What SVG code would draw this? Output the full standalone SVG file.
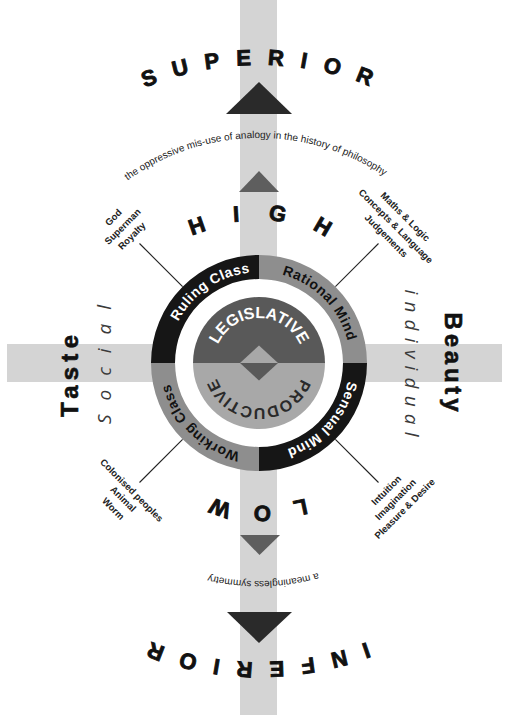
<svg xmlns="http://www.w3.org/2000/svg" width="509" height="715" viewBox="0 0 509 715">
<defs>
<style>
.band{fill:#d4d4d4}
.dark{fill:#2a2a2a}
.mid{fill:#5e5e5e}
.blk{fill:#161616}
.gry{fill:#8e8e8e}
.big{font-family:"Liberation Sans",Arial,sans-serif;font-weight:bold;font-size:22px;fill:#111;stroke:#111;stroke-width:0.9px}
.side{font-family:"Liberation Sans",Arial,sans-serif;font-weight:bold;font-size:24px;fill:#111;stroke:#111;stroke-width:0.6px;text-anchor:middle}
.arc{font-family:"Liberation Sans",Arial,sans-serif;font-size:10px;fill:#222}
.lab{font-family:"Liberation Sans",Arial,sans-serif;font-weight:bold;font-size:9.5px;fill:#222;text-anchor:middle}
.ring{font-family:"Liberation Sans",Arial,sans-serif;font-weight:bold;font-size:14px;letter-spacing:0.5px}
.core{font-family:"Liberation Sans",Arial,sans-serif;font-weight:bold;font-size:16px}
.soft{font-family:"Open Sans","Liberation Sans",sans-serif;font-style:italic;font-weight:normal;font-size:19px;fill:#3a3a3a;text-anchor:middle}
.conn{stroke:#222;stroke-width:1.1;fill:none}
</style>
<path id="pSup" d="M -39 363 A 298 298 0 0 1 557 363"/>
<path id="pInf" d="M 558 363 A 299 299 0 0 1 -40 363"/>
<path id="pHigh" d="M 116.5 363 A 142.5 142.5 0 0 1 401.5 363"/>
<path id="pLow" d="M 401.5 363 A 142.5 142.5 0 0 1 116.5 363"/>
<path id="pTop" d="M 34 363 A 225 225 0 0 1 484 363"/>
<path id="pBot" d="M 477 363 A 218 218 0 0 1 41 363"/>
<path id="pLeg" d="M 214 363 A 45 45 0 0 1 304 363"/>
<path id="pProd" d="M 304 363 A 45 45 0 0 1 214 363"/>
<path id="pRuling" d="M 184.05 415.48 A 91.5 91.5 0 0 1 333.95 310.52"/>
<path id="pRational" d="M 194.3 298.3 A 91.5 91.5 0 0 1 323.7 427.7"/>
<path id="pSensual" d="M 319.03 293.95 A 91.5 91.5 0 0 1 198.97 432.05"/>
<path id="pWorking" d="M 324.82 426.56 A 91.5 91.5 0 0 1 193.18 299.44"/>
</defs>
<rect width="509" height="715" fill="#ffffff"/>
<g id="axes">
<rect class="band" x="240" y="0" width="37" height="715"/>
<rect class="band" x="7" y="344" width="495" height="38"/>
</g>
<g id="superior">
<polygon class="dark" points="259,82 226,114 292,114"/>
<text class="big" letter-spacing="16.5"><textPath href="#pSup" startOffset="474" text-anchor="middle">SUPERIOR</textPath></text>
</g>
<g id="inferior">
<polygon class="dark" points="227,612 292,612 259,643"/>
<text class="big" letter-spacing="16.5"><textPath href="#pInf" startOffset="478" text-anchor="middle">INFERIOR</textPath></text>
</g>
<g id="analogy">
<text class="arc"><textPath href="#pTop" startOffset="349.5" text-anchor="middle">the oppressive mis-use of analogy in the history of philosophy</textPath></text>
</g>
<g id="symmetry">
<text class="arc" font-size="11.5"><textPath href="#pBot" startOffset="338" text-anchor="middle">a meaningless symmetry</textPath></text>
</g>
<g id="high">
<polygon class="mid" points="259,171 239,192 279,192"/>
<text class="big" letter-spacing="28"><textPath href="#pHigh" startOffset="237.8" text-anchor="middle">HIGH</textPath></text>
</g>
<g id="low">
<polygon class="mid" points="240,535 280,535 259.5,555"/>
<text class="big" letter-spacing="21.5"><textPath href="#pLow" startOffset="234.6" text-anchor="middle">LOW</textPath></text>
</g>
<g id="taste">
<text class="side" transform="translate(78,376) rotate(-90)" textLength="82" lengthAdjust="spacing">Taste</text>
<text class="soft" transform="translate(111,364.5) rotate(-90)" textLength="119" lengthAdjust="spacing">Social</text>
</g>
<g id="beauty">
<text class="side" transform="translate(445,362) rotate(90)" textLength="99" lengthAdjust="spacing">Beauty</text>
<text class="soft" transform="translate(405,363) rotate(90)" textLength="147" lengthAdjust="spacing">individual</text>
</g>
<g id="connectors">
<line class="conn" x1="182.6" y1="286.6" x2="139.5" y2="243.5"/>
<line class="conn" x1="335.4" y1="286.6" x2="378.5" y2="243.5"/>
<line class="conn" x1="182.6" y1="439.4" x2="139.5" y2="482.5"/>
<line class="conn" x1="335.4" y1="439.4" x2="378.5" y2="482.5"/>
</g>
<g id="center">
<circle cx="259" cy="363" r="84" fill="#ffffff"/>
<g id="ruling-class">
<path class="blk" d="M 151 363 A 108 108 0 0 1 259 255 L 259 279 A 84 84 0 0 0 175 363 Z"/>
<text class="ring" fill="#ffffff"><textPath href="#pRuling" startOffset="144" text-anchor="middle">Ruling Class</textPath></text>
</g>
<g id="rational-mind">
<path class="gry" d="M 259 255 A 108 108 0 0 1 367 363 L 343 363 A 84 84 0 0 0 259 279 Z"/>
<text class="ring" fill="#111111"><textPath href="#pRational" startOffset="144" text-anchor="middle">Rational Mind</textPath></text>
</g>
<g id="sensual-mind">
<path class="blk" d="M 367 363 A 108 108 0 0 1 259 471 L 259 447 A 84 84 0 0 0 343 363 Z"/>
<text class="ring" fill="#ffffff"><textPath href="#pSensual" startOffset="144" text-anchor="middle">Sensual Mind</textPath></text>
</g>
<g id="working-class">
<path class="gry" d="M 259 471 A 108 108 0 0 1 151 363 L 175 363 A 84 84 0 0 0 259 447 Z"/>
<text class="ring" fill="#111111"><textPath href="#pWorking" startOffset="144" text-anchor="middle">Working Class</textPath></text>
</g>
<g id="legislative">
<path d="M 193 363 A 66 66 0 0 1 325 363 Z" fill="#595959"/>
<path d="M 240 363 L 259 345.5 L 278 363 Z" fill="#a8a8a8"/>
<text class="core" fill="#ffffff"><textPath href="#pLeg" startOffset="70.7" text-anchor="middle">LEGISLATIVE</textPath></text>
</g>
<g id="productive">
<path d="M 325 363 A 66 66 0 0 1 193 363 Z" fill="#a8a8a8"/>
<path d="M 240 363 L 278 363 L 259 380.5 Z" fill="#595959"/>
<text class="core" fill="#2a2a2a" letter-spacing="0.5"><textPath href="#pProd" startOffset="71" text-anchor="middle">PRODUCTIVE</textPath></text>
</g>
</g>
<g id="high-labels">
<text class="lab" transform="translate(134.1,238.1) rotate(-45)">Royalty</text>
<text class="lab" transform="translate(124.9,228.9) rotate(-45)">Superman</text>
<text class="lab" transform="translate(115.7,219.7) rotate(-45)">God</text>
</g>
<g id="mind-labels">
<text class="lab" transform="translate(383.9,238.1) rotate(45)">Judgements</text>
<text class="lab" transform="translate(393.5,228.5) rotate(45)">Concepts &amp; Language</text>
<text class="lab" transform="translate(403,219) rotate(45)">Maths &amp; Logic</text>
</g>
<g id="low-labels">
<text class="lab" transform="translate(129.4,492.6) rotate(45)">Colonised peoples</text>
<text class="lab" transform="translate(120.9,501.1) rotate(45)">Animal</text>
<text class="lab" transform="translate(111,511) rotate(45)">Worm</text>
</g>
<g id="sense-labels">
<text class="lab" transform="translate(388.6,492.6) rotate(-45)">Intuition</text>
<text class="lab" transform="translate(397.8,501.8) rotate(-45)">Imagination</text>
<text class="lab" transform="translate(407,511) rotate(-45)">Pleasure &amp; Desire</text>
</g>
</svg>
